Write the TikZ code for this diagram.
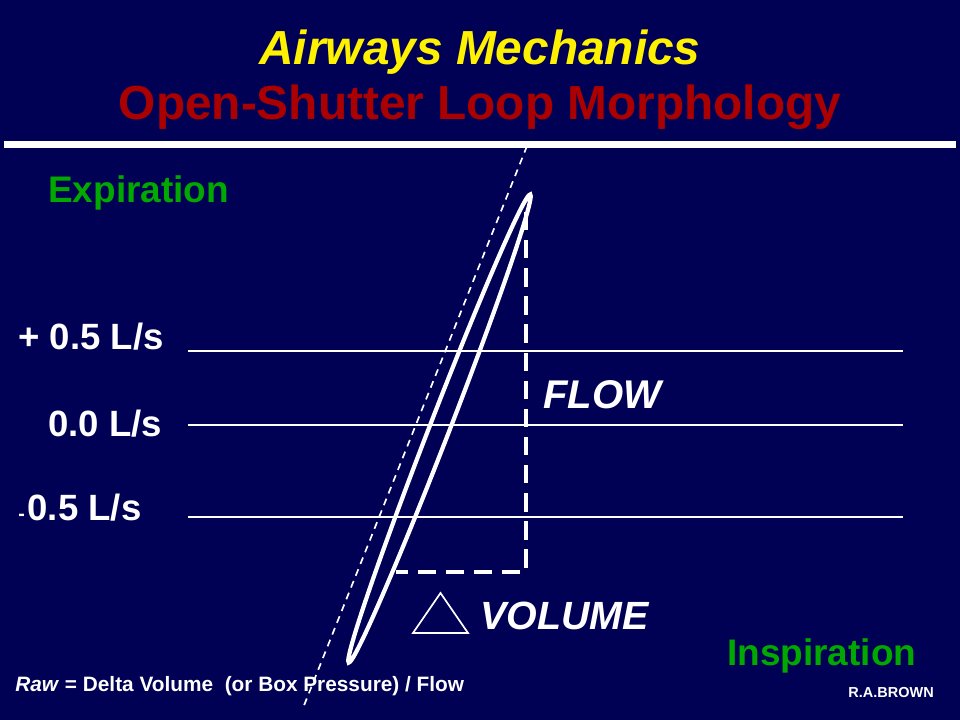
\documentclass[tikz,border=0pt]{standalone}
\usepackage{fontspec}
\setmainfont{Liberation Sans}
\definecolor{bgnavy}{RGB}{0,0,84}
\definecolor{ttlred}{RGB}{170,0,0}
\definecolor{lblgreen}{RGB}{0,168,0}
\begin{document}
\begin{tikzpicture}[x=0.025cm,y=-0.025cm,
  lbl/.style={text=white,font=\bfseries,inner sep=0pt},
  ttl/.style={font=\bfseries\fontsize{34}{40}\selectfont,inner sep=0pt},
  grn/.style={text=lblgreen,font=\bfseries\fontsize{26.3}{30}\selectfont,inner sep=0pt,anchor=base west},
  gridline/.style={white,line width=0.8pt},
  measure/.style={white,line width=2.6pt,dash pattern=on 13pt off 7pt}]
\fill[bgnavy] (0,0) rectangle (960,720);
\useasboundingbox (0,0) rectangle (960,720);
% titles
\node[ttl,text=yellow,anchor=base,font=\bfseries\itshape\fontsize{34}{40}\selectfont] (t1) at (480,65) {Airways Mechanics};
\node[ttl,text=ttlred,anchor=base] (t2) at (480,120) {Open-Shutter Loop Morphology};
\coordinate (rl) at (4,144.5);
\coordinate (rr) at (956,144.5);
\draw[white,line width=5pt] (rl) -- (rr);
% labels
\node[grn] (exp) at (48,203) {Expiration};
\node[grn] (insp) at (727,665) {Inspiration};
\node[lbl,anchor=base west,font=\bfseries\fontsize{26}{30}\selectfont] (p5) at (18,350) {+ 0.5 L/s};
\node[lbl,anchor=base west,font=\bfseries\fontsize{26}{30}\selectfont] (z0) at (48,437) {0.0 L/s};
\node[lbl,anchor=base west,font=\bfseries\fontsize{26}{30}\selectfont] (m5) at (18,521) {{\fontsize{14}{16}\selectfont -}\kern2pt0.5 L/s};
% grid lines
\coordinate (g1a) at (188,351); \coordinate (g1b) at (903,351);
\coordinate (g2a) at (188,425); \coordinate (g2b) at (903,425);
\coordinate (g3a) at (188,517); \coordinate (g3b) at (903,517);
\draw[gridline] (g1a) -- (g1b);
\draw[gridline] (g2a) -- (g2b);
\draw[gridline] (g3a) -- (g3b);
% dashed diagonal
\coordinate (da) at (527,146);
\coordinate (db) at (303,708);
\draw[white,line width=1.2pt,dash pattern=on 5pt off 4pt] (da) -- (db);
% loop
\coordinate (lc) at (439.5,428.5);
\draw[white,line width=3pt,rotate around={68.8:(lc)}] (lc) ellipse [x radius=251, y radius=10];
% measurement dashes
\coordinate (c1) at (526,212);
\coordinate (c2) at (526,572);
\coordinate (c3) at (396,572);
\draw[measure] (c1) -- (c2) -- (c3);
\node[lbl,anchor=base west,font=\bfseries\itshape\fontsize{28.5}{32}\selectfont] (flow) at (543,409) {FLOW};
\node[lbl,anchor=base west,font=\bfseries\itshape\fontsize{28}{32}\selectfont] (vol) at (480,629) {VOLUME};
\coordinate (ta) at (413,633);
\coordinate (tb) at (468,633);
\coordinate (tc) at (440.5,593);
\draw[white,line width=1.2pt] (ta) -- (tb) -- (tc) -- cycle;
% footer
\node[lbl,anchor=base west,font=\bfseries\fontsize{14.8}{17}\selectfont] (raw) at (15,691) {\textit{Raw} = Delta Volume \ (or Box Pressure) / Flow};
\node[lbl,anchor=base east,font=\bfseries\fontsize{10.3}{12}\selectfont] (rab) at (934,697) {R.A.BROWN};
\end{tikzpicture}
\end{document}
